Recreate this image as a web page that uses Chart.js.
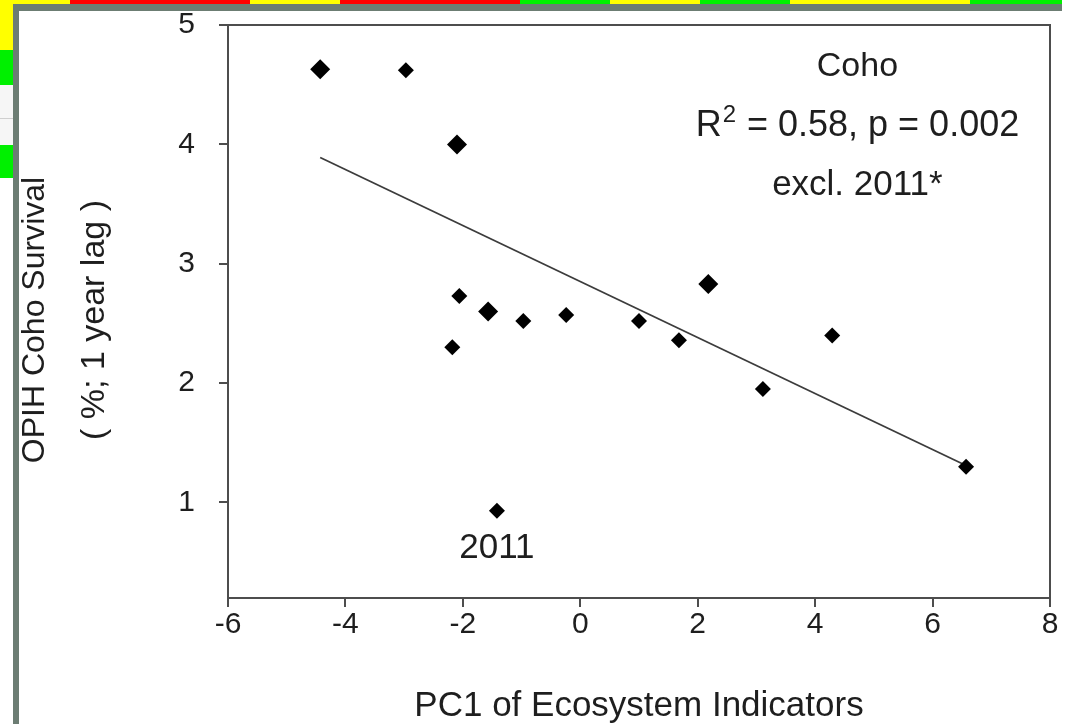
<!DOCTYPE html>
<html>
<head>
<meta charset="utf-8">
<script src="https://cdn.jsdelivr.net/npm/chart.js@4.4.1/dist/chart.umd.min.js"></script>
<style>
  html, body { margin: 0; padding: 0; background: #fff; }
  body { width: 1071px; height: 724px; position: relative; overflow: hidden; }
  .strip { position: absolute; }
  #chartWrap { position: absolute; left: 0; top: 0; width: 1071px; height: 724px; }
</style>
</head>
<body>
<!-- screenshot surroundings: coloured cells and the grey window frame -->
<div class="strip" style="left:0;top:0;width:70px;height:5px;background:#ffff00"></div>
<div class="strip" style="left:70px;top:0;width:180px;height:5px;background:#ff0000"></div>
<div class="strip" style="left:250px;top:0;width:90px;height:5px;background:#ffff00"></div>
<div class="strip" style="left:340px;top:0;width:180px;height:5px;background:#ff0000"></div>
<div class="strip" style="left:520px;top:0;width:90px;height:5px;background:#00f000"></div>
<div class="strip" style="left:610px;top:0;width:90px;height:5px;background:#ffff00"></div>
<div class="strip" style="left:700px;top:0;width:90px;height:5px;background:#00f000"></div>
<div class="strip" style="left:790px;top:0;width:180px;height:5px;background:#ffff00"></div>
<div class="strip" style="left:970px;top:0;width:92px;height:5px;background:#00f000"></div>
<div class="strip" style="left:0;top:0;width:13px;height:50px;background:#ffff00"></div>
<div class="strip" style="left:0;top:50px;width:13px;height:35px;background:#00f000"></div>
<div class="strip" style="left:0;top:85px;width:13px;height:60px;background:#f6f6f6"></div>
<div class="strip" style="left:0;top:118px;width:13px;height:1px;background:#cfcfcf"></div>
<div class="strip" style="left:0;top:145px;width:13px;height:33px;background:#00f000"></div>
<div class="strip" style="left:13px;top:4px;width:1049px;height:7px;background:#6c7d73"></div>
<div class="strip" style="left:13px;top:4px;width:6px;height:720px;background:#6c7d73"></div>

<div id="chartWrap"><canvas id="coho" width="1071" height="724"></canvas></div>

<script>
// ---- data ----
const pc1 = [-4.43, -2.97, -2.10, -2.06, -2.18, -1.57, -0.97, -0.24, 1.00, 1.68, 2.18, 3.11, 4.29, 6.57];
const survival = [4.63, 4.62, 4.00, 2.73, 2.30, 2.60, 2.52, 2.57, 2.52, 2.36, 2.83, 1.95, 2.40, 1.30];

// 2011 (excluded from the fit)
const pc1_2011 = [-1.42];
const survival_2011 = [0.93];

// fitted line end points
const fitPc1 = [-4.43, 6.57];
const fitSurvival = [3.89, 1.31];

const xTicks = [-6, -4, -2, 0, 2, 4, 6, 8];
const yTicks = [1, 2, 3, 4, 5];

// points that look heavier (overlapping years)
const bigPoints = [0, 2, 5, 10];

const FONT = '"Liberation Sans", Arial, sans-serif';
const INK = '#1e1e1e';
const AXIS = '#4d4d4d';

const toXY = (xs, ys) => xs.map((x, i) => ({ x: x, y: ys[i] }));

// titles + in-plot labels
const textLayer = {
  id: 'textLayer',
  afterDraw(chart) {
    const ctx = chart.ctx;
    const xs = chart.scales.x;
    const ys = chart.scales.y;
    ctx.save();
    ctx.fillStyle = INK;
    ctx.textAlign = 'center';
    ctx.textBaseline = 'middle';

    // y title, two rotated lines
    ctx.save();
    ctx.font = '32px ' + FONT;
    ctx.translate(35, 320);
    ctx.rotate(-Math.PI / 2);
    ctx.fillText('OPIH Coho Survival', 0, 0);
    ctx.restore();
    ctx.save();
    ctx.font = '34px ' + FONT;
    ctx.translate(95, 320);
    ctx.rotate(-Math.PI / 2);
    ctx.fillText('( %; 1 year lag )', 0, 0);
    ctx.restore();

    // x title
    ctx.font = '35px ' + FONT;
    ctx.fillText('PC1 of Ecosystem Indicators', (chart.chartArea.left + chart.chartArea.right) / 2, 706);

    // annotations
    ctx.font = '35px ' + FONT;
    ctx.fillText('2011', xs.getPixelForValue(-1.42), ys.getPixelForValue(0.62));
    const cx = xs.getPixelForValue(4.72);
    ctx.font = '34px ' + FONT;
    ctx.fillText('Coho', cx, ys.getPixelForValue(4.65));
    ctx.font = '35px ' + FONT;
    ctx.fillText('excl. 2011*', cx, ys.getPixelForValue(3.66));

    // R² line with superscript
    const yR = ys.getPixelForValue(4.15);
    const a = 'R', b = '2', c = ' = 0.58, p = 0.002';
    ctx.font = '36px ' + FONT;
    const wa = ctx.measureText(a).width;
    const wc = ctx.measureText(c).width;
    ctx.font = '24px ' + FONT;
    const wb = ctx.measureText(b).width + 2;
    let x0 = cx - (wa + wb + wc) / 2;
    ctx.textAlign = 'left';
    ctx.font = '36px ' + FONT;
    ctx.fillText(a, x0, yR);
    ctx.font = '24px ' + FONT;
    ctx.fillText(b, x0 + wa + 1, yR - 11);
    ctx.font = '36px ' + FONT;
    ctx.fillText(c, x0 + wa + wb, yR);
    ctx.restore();
  }
};

// top and right sides of the box
const boxFrame = {
  id: 'boxFrame',
  afterDatasetsDraw(chart) {
    const { ctx, chartArea: a } = chart;
    ctx.save();
    ctx.strokeStyle = AXIS;
    ctx.lineWidth = 2;
    ctx.beginPath();
    ctx.moveTo(a.left, a.top);
    ctx.lineTo(a.right, a.top);
    ctx.lineTo(a.right, a.bottom);
    ctx.stroke();
    ctx.restore();
  }
};

new Chart(document.getElementById('coho'), {
  type: 'scatter',
  data: {
    datasets: [
      {
        label: 'fit',
        data: toXY(fitPc1, fitSurvival),
        showLine: true,
        borderColor: '#3c3c3c',
        borderWidth: 1.8,
        pointRadius: 0,
        order: 2
      },
      {
        label: 'Coho',
        data: toXY(pc1, survival),
        pointStyle: 'rectRot',
        pointRadius: ctx => bigPoints.includes(ctx.dataIndex) ? 10 : 8,
        backgroundColor: '#000',
        borderWidth: 0,
        order: 1
      },
      {
        label: '2011',
        data: toXY(pc1_2011, survival_2011),
        pointStyle: 'rectRot',
        pointRadius: 8,
        backgroundColor: '#000',
        borderWidth: 0,
        order: 1
      }
    ]
  },
  options: {
    responsive: false,
    animation: false,
    layout: { padding: { left: 0, top: 25, right: 21, bottom: 0 } },
    plugins: {
      legend: { display: false },
      tooltip: { enabled: false }
    },
    scales: {
      x: {
        type: 'linear',
        min: xTicks[0],
        max: xTicks[xTicks.length - 1],
        afterBuildTicks: s => { s.ticks = xTicks.map(v => ({ value: v })); },
        afterFit: s => { s.height = 126; s.paddingLeft = 0; s.paddingRight = 0; },
        grid: { drawOnChartArea: false, tickLength: 9, color: AXIS, lineWidth: 2 },
        border: { color: AXIS, width: 2 },
        ticks: { color: INK, font: { family: FONT, size: 30 }, padding: 0, maxRotation: 0 }
      },
      y: {
        type: 'linear',
        min: 0.2,
        max: 5,
        afterBuildTicks: s => { s.ticks = yTicks.map(v => ({ value: v })); },
        afterFit: s => { s.width = 228; s.paddingTop = 0; s.paddingBottom = 0; },
        grid: { drawOnChartArea: false, tickLength: 9, color: AXIS, lineWidth: 2 },
        border: { color: AXIS, width: 2 },
        ticks: { color: INK, font: { family: FONT, size: 30 }, padding: 24 }
      }
    }
  },
  plugins: [boxFrame, textLayer]
});
</script>
</body>
</html>
